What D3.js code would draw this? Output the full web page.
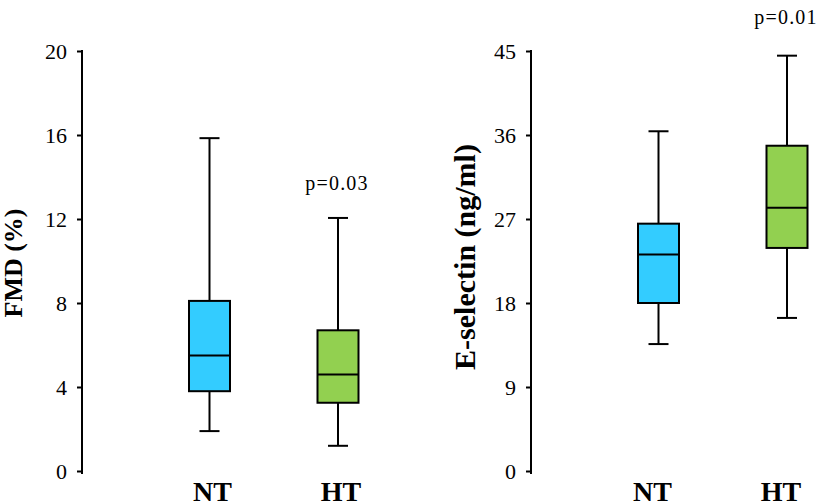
<!DOCTYPE html>
<html>
<head>
<meta charset="utf-8">
<script src="https://cdn.jsdelivr.net/npm/d3@7"></script>
<style>
  html, body { margin: 0; padding: 0; background: #fff; }
  svg { display: block; }
  text { font-family: "Liberation Serif", "Times New Roman", serif; fill: #000; }
</style>
</head>
<body>
<svg id="chart" width="824" height="504"></svg>
<script>
// ---- Data ----
const categories = ["NT", "HT"];

// FMD (%)
const fmdTicks = [0, 4, 8, 12, 16, 20];
const fmdLow    = [1.9, 1.2];
const fmdQ1     = [3.8, 3.25];
const fmdMedian = [5.5, 4.6];
const fmdQ3     = [8.1, 6.7];
const fmdHigh   = [15.85, 12.05];
const fmdPValue = "p=0.03";

// E-selectin (ng/ml)
const eselTicks = [0, 9, 18, 27, 36, 45];
const eselLow    = [13.6, 16.4];
const eselQ1     = [18.0, 23.9];
const eselMedian = [23.2, 28.2];
const eselQ3     = [26.5, 34.85];
const eselHigh   = [36.4, 44.5];
const eselPValue = "p=0.01";

const colors = ["#33CCFF", "#92D050"];

const svg = d3.select("#chart");

const panels = [
  { title: "FMD (%)", ticks: fmdTicks, low: fmdLow, q1: fmdQ1, med: fmdMedian, q3: fmdQ3, high: fmdHigh,
    p: fmdPValue, axisX: 82, titleX: 22, titleY: 263, titleSize: 26, labelDx: 3, pOffset: 28 },
  { title: "E-selectin (ng/ml)", ticks: eselTicks, low: eselLow, q1: eselQ1, med: eselMedian, q3: eselQ3, high: eselHigh,
    p: eselPValue, axisX: 531, titleX: 475, titleY: 257, titleSize: 30, labelDx: -6, pOffset: 32 }
];

const yTop = 51, yBottom = 471;
const boxW = 41, capW = 20;

panels.forEach(pn => {
  const y = d3.scaleLinear()
    .domain([0, d3.max(pn.ticks)])
    .range([yBottom, yTop]);
  const x = d3.scalePoint()
    .domain(categories)
    .range([pn.axisX + 127.5, pn.axisX + 256]);

  const g = svg.append("g");

  // axis
  const ax = g.append("g")
    .attr("transform", `translate(${pn.axisX},0)`)
    .call(d3.axisLeft(y).tickValues(pn.ticks).tickSize(5).tickSizeOuter(0).tickPadding(10));
  ax.select(".domain").attr("stroke", "#000").attr("stroke-width", 2)
    .attr("d", `M0,${yTop - 1}V${yBottom + 3}`);
  ax.selectAll(".tick line").attr("stroke", "#000").attr("stroke-width", 2);
  ax.selectAll(".tick text")
    .style("font-family", '"Liberation Serif", "Times New Roman", serif')
    .style("font-size", "22px")
    .attr("fill", "#111");

  // y title (baseline on the right side after rotation)
  g.append("text")
    .attr("transform", `translate(${pn.titleX},${pn.titleY}) rotate(-90)`)
    .attr("text-anchor", "middle")
    .style("font-size", pn.titleSize + "px")
    .style("font-weight", "bold")
    .text(pn.title);

  // boxes
  categories.forEach((c, i) => {
    const cx = x(c);
    const bg = g.append("g");
    bg.append("line")
      .attr("x1", cx).attr("x2", cx)
      .attr("y1", y(pn.high[i])).attr("y2", y(pn.q3[i]))
      .attr("stroke", "#000").attr("stroke-width", 2);
    bg.append("line")
      .attr("x1", cx).attr("x2", cx)
      .attr("y1", y(pn.q1[i])).attr("y2", y(pn.low[i]))
      .attr("stroke", "#000").attr("stroke-width", 2);
    [pn.high[i], pn.low[i]].forEach(v => {
      bg.append("line")
        .attr("x1", cx - capW / 2).attr("x2", cx + capW / 2)
        .attr("y1", y(v)).attr("y2", y(v))
        .attr("stroke", "#000").attr("stroke-width", 2);
    });
    bg.append("rect")
      .attr("x", cx - boxW / 2)
      .attr("y", y(pn.q3[i]))
      .attr("width", boxW)
      .attr("height", y(pn.q1[i]) - y(pn.q3[i]))
      .attr("fill", colors[i])
      .attr("stroke", "#000").attr("stroke-width", 2);
    bg.append("line")
      .attr("x1", cx - boxW / 2).attr("x2", cx + boxW / 2)
      .attr("y1", y(pn.med[i])).attr("y2", y(pn.med[i]))
      .attr("stroke", "#000").attr("stroke-width", 2);

    g.append("text")
      .attr("x", cx + pn.labelDx)
      .attr("y", 501)
      .attr("text-anchor", "middle")
      .style("font-size", "28px")
      .style("font-weight", "bold")
      .text(c);
  });

  // p-value over HT
  const hi = categories.indexOf("HT");
  g.append("text")
    .attr("x", x("HT") - 1)
    .attr("y", y(pn.high[hi]) - pn.pOffset)
    .attr("text-anchor", "middle")
    .style("font-size", "20px")
    .style("letter-spacing", "1.2px")
    .attr("fill", "#111")
    .text(pn.p);
});
</script>
</body>
</html>
